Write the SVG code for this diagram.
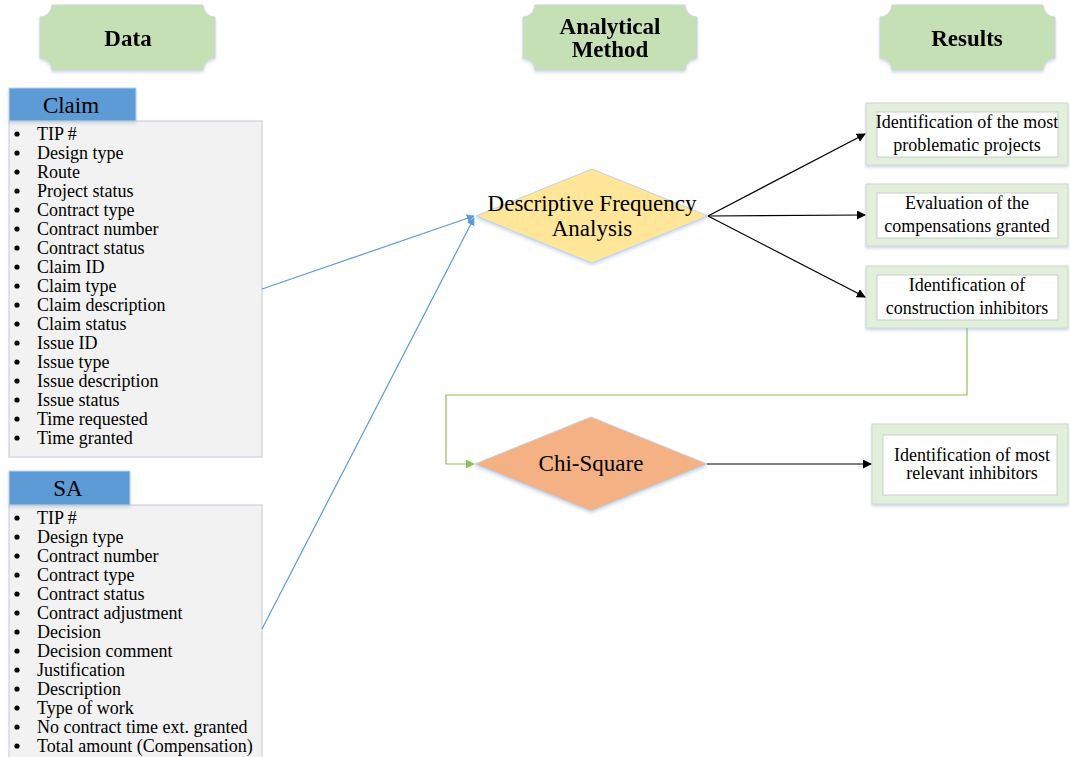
<svg xmlns="http://www.w3.org/2000/svg" width="1070" height="757" viewBox="0 0 1070 757">
  <style>
    text { font-family: "Liberation Serif", "Times New Roman", serif; fill: #000; }
    .hdr { font-size: 23px; font-weight: bold; text-anchor: middle; }
    .tab { font-size: 23px; text-anchor: middle; }
    .item { font-size: 18px; }
    .res { font-size: 18px; text-anchor: middle; }
    .dia { font-size: 23px; text-anchor: middle; }
    .plaque { fill: #C5E0B4; stroke: #D0D5D8; stroke-width: 1; }
    .tabrect { fill: #5B9BD5; stroke: #C9D3DC; stroke-width: 1; }
    .list { fill: #F2F2F2; stroke: #C9D3DC; stroke-width: 1.2; }
    .outer { fill: #E2EFDA; stroke: #D0D8D0; stroke-width: 1; }
    .inner { fill: #FFFFFF; stroke: #C8D0C8; stroke-width: 1; }
    .blue { stroke: #5B9BD5; stroke-width: 1.2; fill: none; }
    .black { stroke: #000; stroke-width: 1.2; fill: none; }
    .green { stroke: #8FBF5A; stroke-width: 1.2; fill: none; }
    .bul { fill: #000; }
  </style>
  <defs>
    <marker id="arrBlue" viewBox="0 0 10 10" refX="9" refY="5" markerWidth="8" markerHeight="8" orient="auto" markerUnits="userSpaceOnUse">
      <path d="M0,0 L10,5 L0,10 z" fill="#5B9BD5"/>
    </marker>
    <marker id="arrBlack" viewBox="0 0 10 10" refX="9" refY="5" markerWidth="9" markerHeight="9" orient="auto" markerUnits="userSpaceOnUse">
      <path d="M0,0 L10,5 L0,10 z" fill="#000"/>
    </marker>
    <marker id="arrGreen" viewBox="0 0 10 10" refX="9" refY="5" markerWidth="10" markerHeight="9" orient="auto" markerUnits="userSpaceOnUse">
      <path d="M0,0 L10,5 L0,10 z" fill="#8FBF5A"/>
    </marker>
    <filter id="shadow" x="-10%" y="-10%" width="120%" height="130%">
      <feDropShadow dx="0" dy="2" stdDeviation="1.5" flood-color="#9DB8D8" flood-opacity="0.5"/>
    </filter>
  </defs>

  <!-- column headers -->
  <g id="hdr-data" filter="url(#shadow)">
    <path class="plaque" d="M52,5 H203 A12,12 0 0 0 215,17 V58 A12,12 0 0 0 203,70 H52 A12,12 0 0 0 40,58 V17 A12,12 0 0 0 52,5 Z"/>
    <text class="hdr" x="128" y="46">Data</text>
  </g>
  <g id="hdr-method" filter="url(#shadow)">
    <path class="plaque" d="M535,5 H685 A12,12 0 0 0 697,17 V58 A12,12 0 0 0 685,70 H535 A12,12 0 0 0 523,58 V17 A12,12 0 0 0 535,5 Z"/>
    <text class="hdr" x="610" y="34">Analytical</text>
    <text class="hdr" x="610" y="57">Method</text>
  </g>
  <g id="hdr-results" filter="url(#shadow)">
    <path class="plaque" d="M892,5 H1043 A12,12 0 0 0 1055,17 V58 A12,12 0 0 0 1043,70 H892 A12,12 0 0 0 880,58 V17 A12,12 0 0 0 892,5 Z"/>
    <text class="hdr" x="967" y="46">Results</text>
  </g>

  <!-- Claim data source -->
  <g id="claim">
    <rect class="list" x="9" y="121" width="253" height="336"/>
    <rect class="tabrect" x="9" y="88" width="127" height="33" filter="url(#shadow)"/>
    <text class="tab" x="71" y="113">Claim</text>
    <g class="bul">
      <circle cx="17" cy="134" r="2.6"/><circle cx="17" cy="153" r="2.6"/><circle cx="17" cy="172" r="2.6"/>
      <circle cx="17" cy="191" r="2.6"/><circle cx="17" cy="210" r="2.6"/><circle cx="17" cy="229" r="2.6"/>
      <circle cx="17" cy="248" r="2.6"/><circle cx="17" cy="267" r="2.6"/><circle cx="17" cy="286" r="2.6"/>
      <circle cx="17" cy="305" r="2.6"/><circle cx="17" cy="324" r="2.6"/><circle cx="17" cy="343" r="2.6"/>
      <circle cx="17" cy="362" r="2.6"/><circle cx="17" cy="381" r="2.6"/><circle cx="17" cy="400" r="2.6"/>
      <circle cx="17" cy="419" r="2.6"/><circle cx="17" cy="438" r="2.6"/>
    </g>
    <g class="item">
      <text x="37" y="140">TIP #</text>
      <text x="37" y="159">Design type</text>
      <text x="37" y="178">Route</text>
      <text x="37" y="197">Project status</text>
      <text x="37" y="216">Contract type</text>
      <text x="37" y="235">Contract number</text>
      <text x="37" y="254">Contract status</text>
      <text x="37" y="273">Claim ID</text>
      <text x="37" y="292">Claim type</text>
      <text x="37" y="311">Claim description</text>
      <text x="37" y="330">Claim status</text>
      <text x="37" y="349">Issue ID</text>
      <text x="37" y="368">Issue type</text>
      <text x="37" y="387">Issue description</text>
      <text x="37" y="406">Issue status</text>
      <text x="37" y="425">Time requested</text>
      <text x="37" y="444">Time granted</text>
    </g>
  </g>

  <!-- SA data source -->
  <g id="sa">
    <rect class="list" x="9" y="505" width="253" height="254"/>
    <rect class="tabrect" x="9" y="471" width="121" height="34" filter="url(#shadow)"/>
    <text class="tab" x="68" y="496">SA</text>
    <g class="bul">
      <circle cx="17" cy="518" r="2.6"/><circle cx="17" cy="537" r="2.6"/><circle cx="17" cy="556" r="2.6"/>
      <circle cx="17" cy="575" r="2.6"/><circle cx="17" cy="594" r="2.6"/><circle cx="17" cy="613" r="2.6"/>
      <circle cx="17" cy="632" r="2.6"/><circle cx="17" cy="651" r="2.6"/><circle cx="17" cy="670" r="2.6"/>
      <circle cx="17" cy="689" r="2.6"/><circle cx="17" cy="708" r="2.6"/><circle cx="17" cy="727" r="2.6"/>
      <circle cx="17" cy="746" r="2.6"/>
    </g>
    <g class="item">
      <text x="37" y="524">TIP #</text>
      <text x="37" y="543">Design type</text>
      <text x="37" y="562">Contract number</text>
      <text x="37" y="581">Contract type</text>
      <text x="37" y="600">Contract status</text>
      <text x="37" y="619">Contract adjustment</text>
      <text x="37" y="638">Decision</text>
      <text x="37" y="657">Decision comment</text>
      <text x="37" y="676">Justification</text>
      <text x="37" y="695">Description</text>
      <text x="37" y="714">Type of work</text>
      <text x="37" y="733">No contract time ext. granted</text>
      <text x="37" y="752">Total amount (Compensation)</text>
    </g>
  </g>

  <!-- analysis methods -->
  <g id="dfa">
    <polygon points="592,169 708,216 592,263 476,216" fill="#FFE699" stroke="#BFD3E6" stroke-width="1" filter="url(#shadow)"/>
    <text class="dia" x="592" y="211">Descriptive Frequency</text>
    <text class="dia" x="592" y="236">Analysis</text>
  </g>
  <g id="chi">
    <polygon points="591,417 707,464 591,511 475,464" fill="#F4B183" stroke="#BFD3E6" stroke-width="1" filter="url(#shadow)"/>
    <text class="dia" x="591" y="471">Chi-Square</text>
  </g>

  <!-- results -->
  <g id="res-projects">
    <rect class="outer" x="866" y="103" width="202" height="62" filter="url(#shadow)"/>
    <rect class="inner" x="877" y="112" width="181" height="45"/>
    <text class="res" x="967" y="128">Identification of the most</text>
    <text class="res" x="967" y="151">problematic projects</text>
  </g>
  <g id="res-compensation">
    <rect class="outer" x="866" y="184" width="202" height="62" filter="url(#shadow)"/>
    <rect class="inner" x="877" y="193" width="181" height="45"/>
    <text class="res" x="967" y="209">Evaluation of the</text>
    <text class="res" x="967" y="232">compensations granted</text>
  </g>
  <g id="res-inhibitors">
    <rect class="outer" x="866" y="266" width="202" height="62" filter="url(#shadow)"/>
    <rect class="inner" x="877" y="275" width="181" height="45"/>
    <text class="res" x="967" y="291">Identification of</text>
    <text class="res" x="967" y="314">construction inhibitors</text>
  </g>
  <g id="res-relevant">
    <rect class="outer" x="872" y="424" width="196" height="80" filter="url(#shadow)"/>
    <rect class="inner" x="883" y="435" width="174" height="60"/>
    <text class="res" x="972" y="461">Identification of most</text>
    <text class="res" x="972" y="479">relevant inhibitors</text>
  </g>

  <!-- connectors -->
  <g id="connectors">
    <line class="blue" x1="262" y1="289" x2="474" y2="216" marker-end="url(#arrBlue)"/>
    <line class="blue" x1="262" y1="629" x2="474" y2="218" marker-end="url(#arrBlue)"/>
    <line class="black" x1="708" y1="216" x2="865" y2="134" marker-end="url(#arrBlack)"/>
    <line class="black" x1="708" y1="216" x2="865" y2="215" marker-end="url(#arrBlack)"/>
    <line class="black" x1="708" y1="216" x2="865" y2="297" marker-end="url(#arrBlack)"/>
    <polyline class="green" points="967,328 967,395 446,395 446,464 474,464" marker-end="url(#arrGreen)"/>
    <line class="black" x1="707" y1="464" x2="871" y2="464" marker-end="url(#arrBlack)"/>
  </g>
</svg>
